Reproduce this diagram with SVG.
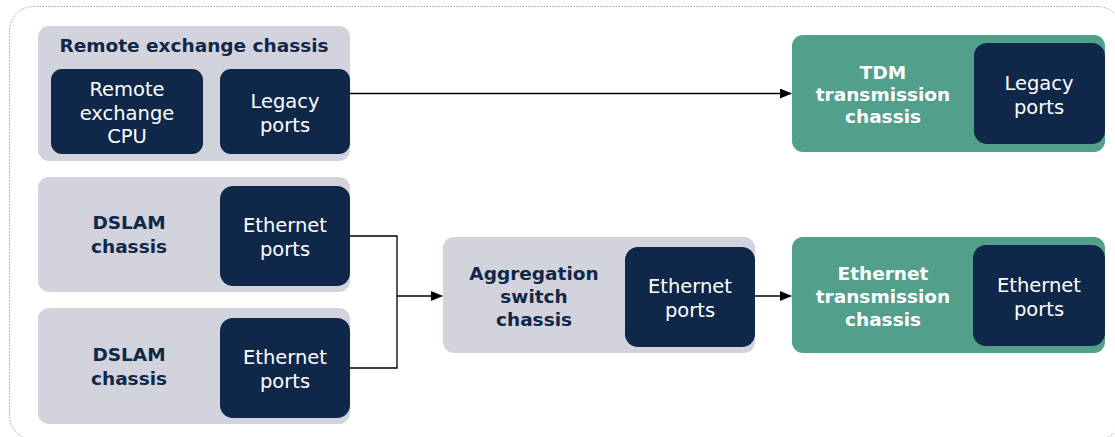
<svg xmlns="http://www.w3.org/2000/svg" width="1115" height="437" viewBox="0 0 1115 437">
<defs>
<style>
.chassis{fill:#d3d3de}
.tx{fill:#52a08c}
.port{fill:#0f2748}
.bt{font-family:"DejaVu Sans",Verdana,sans-serif;font-weight:bold;font-size:18.5px;fill:#0f2748;text-anchor:middle;dominant-baseline:central}
.bw{font-family:"DejaVu Sans",Verdana,sans-serif;font-weight:bold;font-size:18.5px;fill:#ffffff;text-anchor:middle;dominant-baseline:central}
.pt{font-family:"DejaVu Sans",Verdana,sans-serif;font-size:19.5px;fill:#ffffff;text-anchor:middle;dominant-baseline:central}
.conn{fill:none;stroke:#000;stroke-width:1.3}
</style>
<marker id="arr" markerWidth="12" markerHeight="10" refX="11" refY="5" orient="auto" markerUnits="userSpaceOnUse">
<path d="M0,0 L12,5 L0,10 Z" fill="#000"/>
</marker>
</defs>
<rect x="9.5" y="6.5" width="1112" height="433" rx="24" fill="none" stroke="#a0a0a0" stroke-width="1" stroke-dasharray="1.5,1.5"/>

<g id="remote-exchange-chassis">
<rect class="chassis" x="38" y="26" width="312" height="135" rx="11"/>
<text class="bt" x="194" y="45">Remote exchange chassis</text>
</g>
<g id="remote-exchange-cpu">
<rect class="port" x="51" y="69" width="152" height="85" rx="11"/>
<text class="pt" x="127" y="89">Remote</text>
<text class="pt" x="127" y="113">exchange</text>
<text class="pt" x="127" y="136">CPU</text>
</g>
<g id="remote-legacy-ports">
<rect class="port" x="220" y="69" width="130" height="85" rx="11"/>
<text class="pt" x="285" y="101">Legacy</text>
<text class="pt" x="285" y="125">ports</text>
</g>

<g id="dslam-chassis-1">
<rect class="chassis" x="38" y="177" width="312" height="115" rx="11"/>
<text class="bt" x="129" y="222">DSLAM</text>
<text class="bt" x="129" y="246">chassis</text>
</g>
<g id="dslam-ethernet-ports-1">
<rect class="port" x="220" y="186" width="130" height="100" rx="13"/>
<text class="pt" x="285" y="225">Ethernet</text>
<text class="pt" x="285" y="249">ports</text>
</g>

<g id="dslam-chassis-2">
<rect class="chassis" x="38" y="308" width="312" height="116" rx="11"/>
<text class="bt" x="129" y="354">DSLAM</text>
<text class="bt" x="129" y="378">chassis</text>
</g>
<g id="dslam-ethernet-ports-2">
<rect class="port" x="220" y="318" width="130" height="100" rx="13"/>
<text class="pt" x="285" y="357">Ethernet</text>
<text class="pt" x="285" y="381">ports</text>
</g>

<g id="aggregation-switch-chassis">
<rect class="chassis" x="443" y="237" width="312" height="116" rx="11"/>
<text class="bt" x="534" y="273">Aggregation</text>
<text class="bt" x="534" y="296">switch</text>
<text class="bt" x="534" y="319">chassis</text>
</g>
<g id="aggregation-ethernet-ports">
<rect class="port" x="625" y="247" width="130" height="100" rx="13"/>
<text class="pt" x="690" y="286">Ethernet</text>
<text class="pt" x="690" y="310">ports</text>
</g>

<g id="tdm-transmission-chassis">
<rect class="tx" x="792" y="35" width="313" height="117" rx="11"/>
<text class="bw" x="883" y="72">TDM</text>
<text class="bw" x="883" y="94">transmission</text>
<text class="bw" x="883" y="116">chassis</text>
</g>
<g id="tdm-legacy-ports">
<rect class="port" x="974" y="43" width="131" height="101" rx="13"/>
<text class="pt" x="1039" y="83">Legacy</text>
<text class="pt" x="1039" y="107">ports</text>
</g>

<g id="ethernet-transmission-chassis">
<rect class="tx" x="792" y="237" width="313" height="116" rx="11"/>
<text class="bw" x="883" y="273">Ethernet</text>
<text class="bw" x="883" y="296">transmission</text>
<text class="bw" x="883" y="319">chassis</text>
</g>
<g id="ethernet-tx-ports">
<rect class="port" x="973" y="245" width="132" height="101" rx="13"/>
<text class="pt" x="1039" y="285">Ethernet</text>
<text class="pt" x="1039" y="309">ports</text>
</g>

<g id="connectors">
<path class="conn" d="M350,93.5 H791" marker-end="url(#arr)"/>
<path class="conn" d="M350,236 H397 V368 H350"/>
<path class="conn" d="M397,296 H442" marker-end="url(#arr)"/>
<path class="conn" d="M755,296 H791" marker-end="url(#arr)"/>
</g>
</svg>
